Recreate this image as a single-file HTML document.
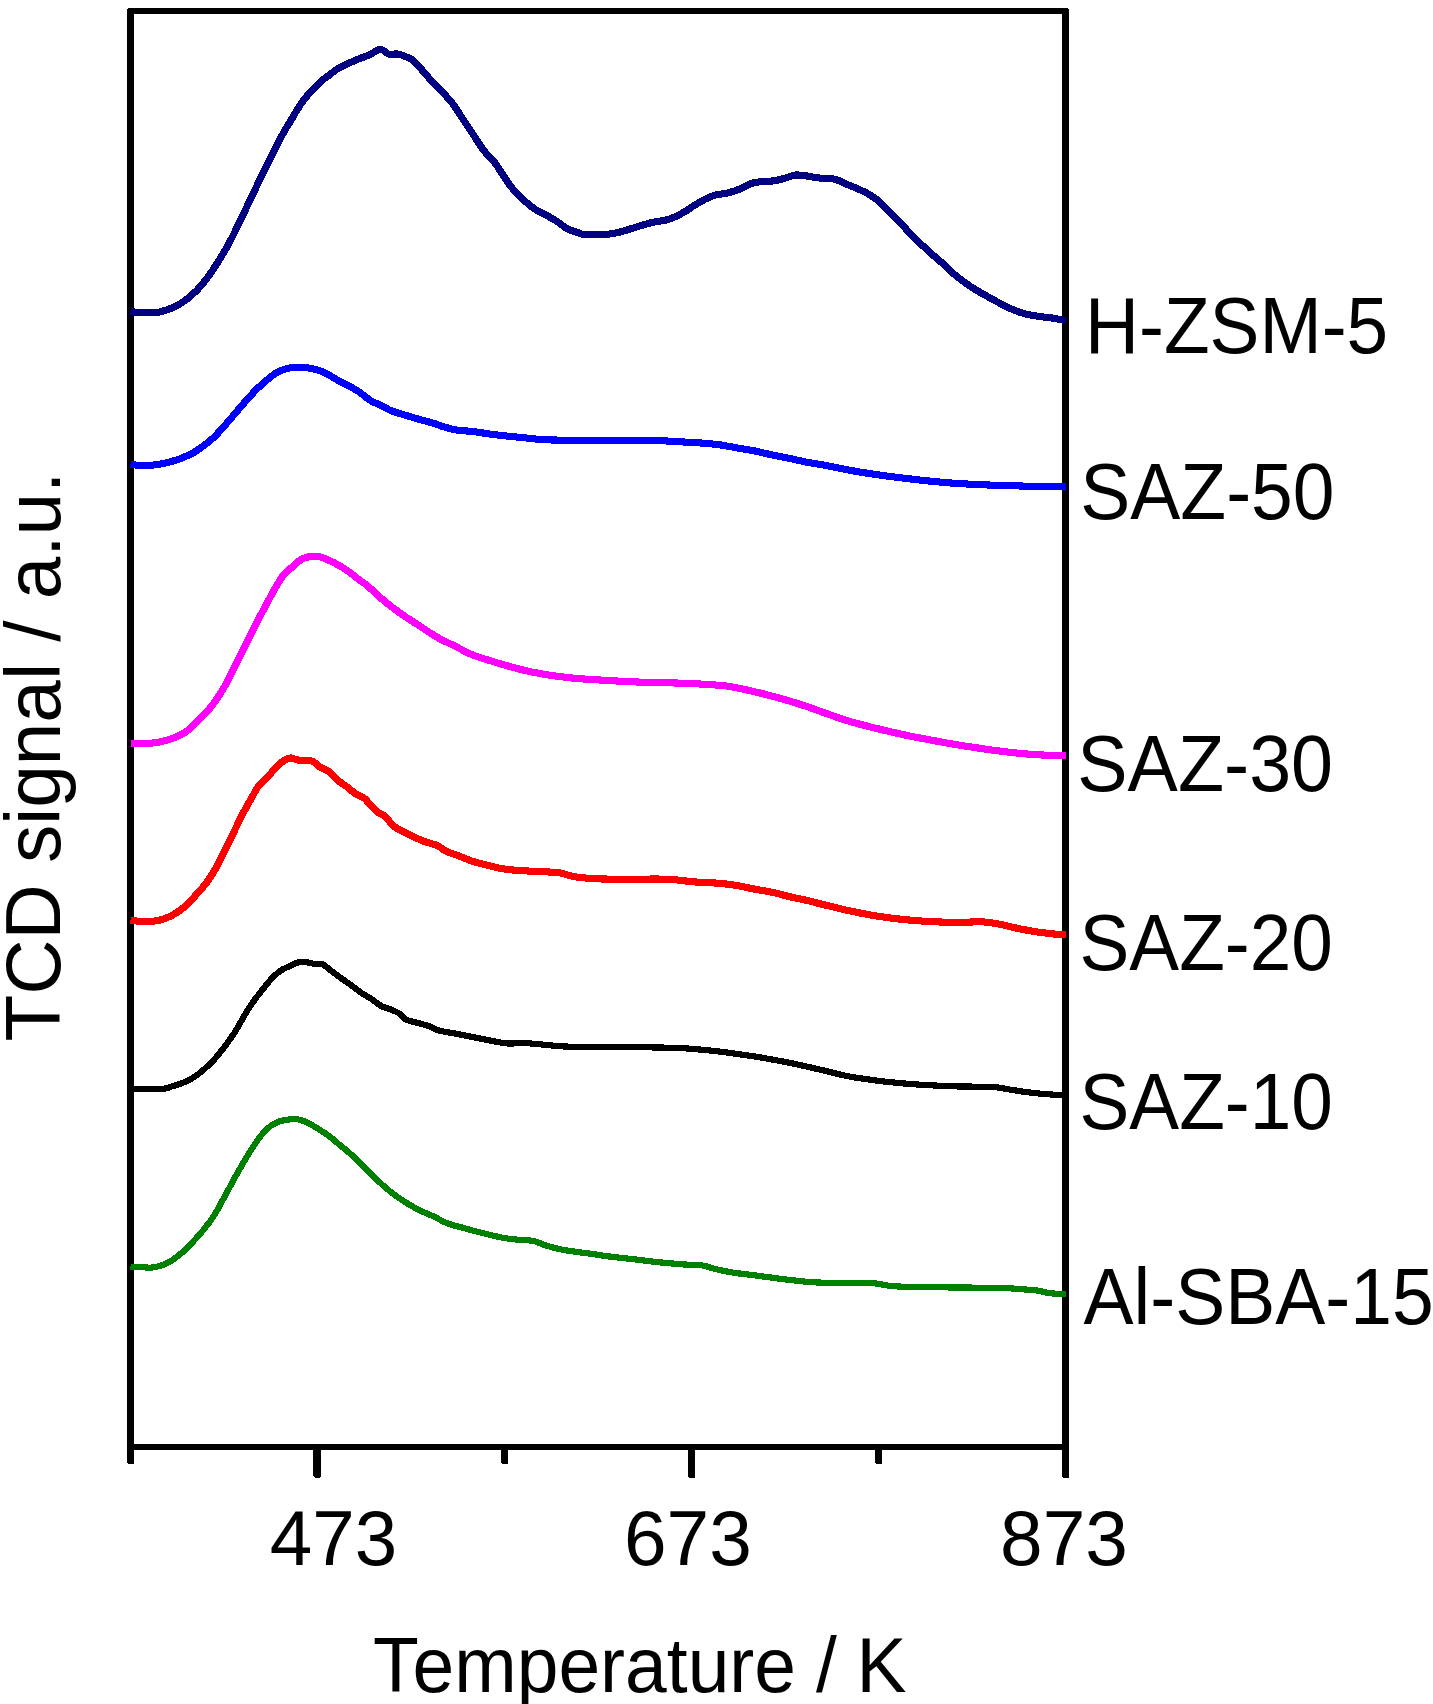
<!DOCTYPE html>
<html lang="en"><head><meta charset="utf-8"><title>NH3-TPD profiles</title>
<style>
html,body{margin:0;padding:0;background:#fff;}
body{width:1433px;height:1704px;overflow:hidden;}
svg{display:block;}
text{font-family:"Liberation Sans", Arial, sans-serif;fill:#000;}
.c{fill:none;stroke-linejoin:round;stroke-linecap:butt;shape-rendering:crispEdges;}
</style></head><body>
<svg width="1433" height="1704" viewBox="0 0 1433 1704">
<rect x="0" y="0" width="1433" height="1704" fill="#ffffff"/>
<g fill="#000" shape-rendering="crispEdges">
<rect x="127" y="8" width="942" height="6"/>
<rect x="127" y="1444" width="942" height="6"/>
<path d="M127 8H134V1463L133 1464H128L127 1463Z"/>
<path d="M1062 8H1069V1477L1068 1478H1063L1062 1477Z"/>
<path d="M313 1444H321V1476L319 1478H315L313 1476Z"/>
<path d="M501 1444H508V1463L507 1464H502L501 1463Z"/>
<path d="M688 1444H695V1477L694 1478H689L688 1477Z"/>
<path d="M875 1444H882V1463L881 1464H876L875 1463Z"/>
<rect x="127" y="8" width="1" height="1" fill="#fff"/><rect x="1068" y="8" width="1" height="1" fill="#fff"/>
</g>
<path class="c" stroke="#000080" stroke-width="7.1" d="M130.5 311.6C132.2 311.8 136.7 312.4 140.9 312.6C145.1 312.8 151.6 313.0 155.6 312.6C159.6 312.2 161.5 311.6 165.0 310.5C168.5 309.4 172.8 307.8 176.5 305.9C180.2 304.0 183.5 301.7 187.0 299.0C190.5 296.3 194.0 293.3 197.5 289.6C201.0 285.9 204.4 281.7 207.9 277.0C211.4 272.3 214.9 266.9 218.4 261.3C221.9 255.7 225.4 249.9 228.9 243.5C232.4 237.1 235.8 229.8 239.3 222.6C242.8 215.4 246.3 207.9 249.8 200.6C253.3 193.3 256.8 185.8 260.3 178.6C263.8 171.4 267.2 164.7 270.7 157.7C274.2 150.7 277.7 143.2 281.2 136.8C284.7 130.4 288.2 124.8 291.7 119.0C295.2 113.2 298.6 107.1 302.1 102.2C305.6 97.3 309.5 93.2 312.6 89.7C315.8 86.2 318.2 83.8 321.0 81.3C323.8 78.8 326.5 77.1 329.3 75.0C332.1 72.9 334.6 70.6 337.7 68.7C340.8 66.8 344.7 65.1 348.2 63.5C351.7 61.9 355.2 60.3 358.7 58.9C362.2 57.5 366.5 56.2 369.1 55.1C371.7 54.0 372.6 53.0 374.3 52.0C376.1 51.0 378.0 49.5 379.6 49.3C381.2 49.1 382.6 50.1 384.2 50.9C385.8 51.7 386.6 53.6 389.0 54.1C391.4 54.6 395.4 53.6 398.4 54.1C401.4 54.6 404.4 56.2 406.8 57.2C409.2 58.2 410.8 58.5 413.1 60.4C415.5 62.3 417.8 65.3 420.9 68.7C423.9 72.1 427.9 77.0 431.4 80.8C434.9 84.6 438.4 87.9 441.9 91.6C445.4 95.3 448.8 98.6 452.3 103.2C455.8 107.8 459.3 113.8 462.8 119.0C466.3 124.2 469.8 129.5 473.3 134.7C476.8 139.9 480.2 145.9 483.7 150.4C487.2 154.9 490.7 157.4 494.2 161.9C497.7 166.4 501.6 173.1 504.7 177.6C507.8 182.1 509.5 185.1 513.0 189.1C516.5 193.1 521.8 198.2 525.6 201.7C529.5 205.2 532.6 207.7 536.1 210.0C539.6 212.3 543.0 213.4 546.5 215.3C550.0 217.2 553.5 219.2 557.0 221.5C560.5 223.8 564.0 227.1 567.5 228.9C571.0 230.8 575.1 231.7 577.9 232.6C580.7 233.5 579.7 234.2 584.2 234.5C588.7 234.8 599.5 234.8 605.1 234.5C610.7 234.2 613.5 233.5 617.7 232.6C621.9 231.7 626.5 230.1 630.3 228.9C634.1 227.8 636.9 226.8 640.7 225.7C644.5 224.6 649.1 223.1 653.3 222.2C657.5 221.3 662.1 221.1 665.9 220.1C669.7 219.1 672.8 217.9 676.3 216.3C679.8 214.7 684.1 212.0 686.8 210.4C689.5 208.8 689.5 208.4 692.6 206.5C695.7 204.6 701.3 201.1 705.1 199.2C708.9 197.3 711.8 196.1 715.6 195.0C719.4 193.9 723.9 194.0 728.1 192.9C732.3 191.8 736.9 190.3 740.7 188.7C744.6 187.1 747.4 184.7 751.2 183.5C755.0 182.3 759.9 181.8 763.7 181.4C767.5 181.0 770.7 181.3 774.2 180.8C777.7 180.3 781.2 179.2 784.7 178.3C788.2 177.4 791.6 175.5 795.1 175.1C798.6 174.7 801.8 175.3 805.6 175.8C809.5 176.3 813.3 177.3 818.2 177.9C823.1 178.5 830.0 178.2 834.9 179.3C839.8 180.4 843.3 182.8 847.5 184.6C851.7 186.3 856.5 188.2 860.0 189.8C863.5 191.4 865.2 192.1 868.4 194.0C871.5 195.9 875.4 198.3 878.9 201.3C882.4 204.3 885.8 208.3 889.3 211.8C892.8 215.3 896.3 218.5 899.8 222.2C903.3 225.8 906.8 230.1 910.3 233.7C913.8 237.3 917.2 240.5 920.7 243.8C924.2 247.1 927.7 250.5 931.2 253.6C934.7 256.7 938.2 259.5 941.7 262.6C945.2 265.8 948.6 269.4 952.1 272.5C955.6 275.6 959.1 278.3 962.6 280.9C966.1 283.5 969.6 285.9 973.1 288.2C976.6 290.4 979.6 292.1 983.7 294.4C987.8 296.7 993.0 299.7 997.7 302.1C1002.4 304.6 1007.1 307.1 1011.7 309.1C1016.4 311.1 1020.9 312.8 1025.6 314.0C1030.2 315.2 1034.9 315.8 1039.6 316.5C1044.2 317.2 1049.1 317.5 1053.5 318.2C1057.9 318.9 1063.9 320.3 1066.0 320.7"/>
<path class="c" stroke="#0000ff" stroke-width="7.1" d="M130.5 464.5C132.2 464.6 136.8 465.3 140.9 465.4C145.0 465.5 150.2 465.4 154.9 464.9C159.6 464.4 164.4 463.3 168.8 462.2C173.2 461.1 177.0 460.0 181.1 458.4C185.2 456.8 189.5 454.8 193.3 452.7C197.1 450.6 200.2 448.3 203.7 445.7C207.2 443.1 210.7 440.4 214.2 437.0C217.7 433.6 221.2 429.5 224.7 425.6C228.2 421.7 231.6 417.5 235.1 413.4C238.6 409.3 242.1 405.1 245.6 401.2C249.1 397.3 252.6 393.3 256.1 389.8C259.6 386.3 263.0 383.2 266.5 380.3C270.0 377.4 273.8 374.3 277.0 372.4C280.2 370.5 282.8 369.8 285.7 368.9C288.6 368.0 291.3 367.4 294.5 367.2C297.7 367.0 301.4 367.1 304.9 367.5C308.4 367.9 311.9 368.4 315.4 369.4C318.9 370.4 322.4 371.6 325.9 373.3C329.4 375.0 332.8 377.4 336.3 379.4C339.8 381.3 343.3 383.1 346.8 385.0C350.3 386.9 353.3 388.1 357.3 390.7C361.3 393.3 366.9 398.3 370.9 400.8C374.9 403.3 378.2 403.9 381.4 405.5C384.6 407.1 386.6 408.8 390.1 410.3C393.6 411.8 397.4 412.8 402.3 414.3C407.2 415.8 414.6 418.0 419.8 419.5C425.0 421.0 429.6 422.1 433.7 423.3C437.8 424.6 440.1 425.8 444.2 427.0C448.3 428.2 453.5 429.6 458.2 430.3C462.9 431.0 466.9 430.8 472.1 431.4C477.3 432.0 483.8 433.2 489.6 434.0C495.4 434.8 501.2 435.5 507.0 436.1C512.8 436.7 518.7 437.2 524.5 437.8C530.3 438.4 536.1 439.2 541.9 439.6C547.7 440.0 553.5 440.0 559.3 440.1C565.1 440.2 570.0 440.3 576.8 440.4C583.6 440.5 593.6 440.5 600.0 440.5C606.4 440.5 605.7 440.5 614.9 440.5C624.1 440.5 644.5 440.3 655.0 440.5C665.5 440.7 669.9 441.3 677.7 441.7C685.6 442.1 695.1 442.6 702.1 443.1C709.1 443.6 713.8 444.0 719.6 444.8C725.4 445.6 731.2 446.9 737.0 447.9C742.8 448.9 748.7 449.7 754.5 450.9C760.3 452.1 766.1 453.6 771.9 454.9C777.7 456.1 783.5 457.2 789.3 458.4C795.1 459.6 800.8 461.0 806.8 462.2C812.8 463.4 818.3 464.0 825.0 465.3C831.7 466.6 839.0 468.3 847.2 469.8C855.4 471.3 865.3 473.0 874.4 474.3C883.5 475.6 892.5 476.8 901.6 477.9C910.7 479.0 919.8 480.1 928.9 481.0C938.0 481.9 947.0 482.8 956.1 483.4C965.2 484.0 974.2 484.4 983.3 484.8C992.4 485.2 1001.4 485.4 1010.5 485.7C1019.6 486.0 1028.5 486.2 1037.7 486.4C1046.9 486.6 1061.1 486.9 1065.8 487.0"/>
<path class="c" stroke="#ff00ff" stroke-width="7.1" d="M130.5 743.2C132.5 743.2 138.6 743.5 142.7 743.4C146.8 743.3 151.1 743.3 154.9 742.8C158.7 742.3 161.9 741.5 165.4 740.6C168.9 739.7 172.3 738.6 175.8 737.1C179.3 735.6 182.8 734.0 186.3 731.5C189.8 729.0 193.3 725.2 196.8 721.9C200.3 718.5 204.0 715.0 207.2 711.4C210.4 707.8 213.1 704.3 216.0 700.1C218.9 695.9 221.8 691.2 224.7 686.1C227.6 681.0 230.5 675.3 233.4 669.6C236.3 663.9 239.2 657.9 242.1 652.1C245.0 646.3 247.9 640.5 250.8 634.7C253.7 628.9 256.7 622.9 259.6 617.2C262.5 611.5 265.4 606.1 268.3 600.7C271.2 595.3 274.4 589.4 277.0 585.0C279.6 580.6 281.4 577.6 284.0 574.5C286.6 571.4 289.8 569.1 292.7 566.6C295.6 564.1 298.5 561.0 301.4 559.3C304.3 557.6 307.3 557.0 310.2 556.5C313.1 556.0 316.0 556.0 318.9 556.5C321.8 557.0 324.4 558.3 327.6 559.7C330.8 561.1 334.6 562.9 338.1 564.9C341.6 566.9 345.0 569.0 348.5 571.5C352.0 574.0 355.9 577.3 359.0 579.7C362.1 582.1 363.1 582.2 367.4 585.8C371.7 589.4 379.1 596.7 384.9 601.5C390.7 606.3 396.5 610.5 402.3 614.6C408.1 618.7 414.0 622.2 419.8 626.0C425.6 629.8 431.4 634.0 437.2 637.3C443.0 640.6 448.9 643.1 454.7 646.0C460.5 648.9 466.3 652.3 472.1 654.7C477.9 657.1 483.8 658.7 489.6 660.5C495.4 662.3 501.2 664.1 507.0 665.7C512.8 667.4 518.7 669.0 524.5 670.4C530.3 671.8 536.1 672.9 541.9 673.9C547.7 674.9 553.5 675.7 559.3 676.5C565.1 677.3 571.7 678.0 576.8 678.5C581.9 679.0 585.1 679.0 590.0 679.3C594.9 679.6 599.2 680.0 606.2 680.4C613.2 680.8 623.6 681.4 632.3 681.8C641.0 682.2 649.8 682.4 658.5 682.6C667.2 682.9 676.0 682.9 684.7 683.3C693.4 683.6 703.2 684.2 710.8 684.7C718.3 685.2 722.7 685.3 730.0 686.5C737.3 687.7 747.5 690.1 754.5 691.7C761.5 693.3 766.1 694.6 771.9 696.1C777.7 697.6 783.5 699.3 789.3 701.0C795.1 702.7 800.8 704.5 806.8 706.5C812.8 708.5 818.3 710.6 825.0 713.0C831.7 715.4 839.0 718.2 847.2 720.7C855.4 723.2 865.3 725.6 874.4 727.9C883.5 730.2 892.5 732.3 901.6 734.3C910.7 736.3 919.8 738.0 928.9 739.7C938.0 741.4 947.0 743.1 956.1 744.6C965.2 746.1 974.2 747.5 983.3 748.8C992.4 750.1 1001.4 751.4 1010.5 752.4C1019.6 753.4 1028.5 754.2 1037.7 754.8C1046.9 755.3 1061.1 755.6 1065.8 755.7"/>
<path class="c" stroke="#ff0000" stroke-width="7.1" d="M130.5 920.2C132.5 920.4 138.6 921.5 142.7 921.6C146.8 921.7 151.1 921.5 154.9 921.0C158.7 920.5 161.9 919.7 165.4 918.4C168.9 917.1 172.3 915.4 175.8 913.2C179.3 911.0 182.8 908.5 186.3 905.3C189.8 902.1 193.3 897.9 196.8 894.0C200.3 890.1 204.0 886.2 207.2 881.8C210.4 877.4 213.1 873.0 216.0 867.8C218.9 862.6 221.8 856.2 224.7 850.4C227.6 844.6 230.4 839.0 233.4 832.9C236.4 826.8 239.7 819.7 242.8 813.7C245.9 807.8 249.4 801.9 252.0 797.2C254.6 792.6 256.2 789.0 258.6 785.8C261.0 782.6 263.7 780.9 266.5 778.0C269.3 775.1 272.4 771.3 275.3 768.4C278.2 765.5 281.4 762.2 284.0 760.5C286.6 758.8 288.7 758.0 291.0 757.9C293.3 757.8 294.4 759.5 297.9 760.0C301.4 760.5 308.1 759.9 311.9 761.1C315.7 762.4 317.7 765.7 320.6 767.5C323.5 769.3 326.4 769.7 329.3 771.9C332.2 774.1 335.2 778.1 338.1 780.6C341.0 783.1 343.9 784.5 346.8 786.7C349.7 788.9 352.6 791.7 355.5 793.7C358.4 795.7 361.1 795.6 364.5 798.5C367.9 801.4 372.8 808.1 376.2 811.1C379.6 814.1 382.0 813.9 384.9 816.4C387.8 818.9 390.7 823.5 393.6 826.0C396.5 828.5 399.1 829.5 402.3 831.2C405.5 832.9 409.0 834.6 412.8 836.4C416.6 838.1 420.9 840.2 425.0 841.7C429.1 843.2 433.7 843.9 437.2 845.5C440.7 847.1 442.5 849.5 446.0 851.2C449.5 852.9 453.8 853.9 458.2 855.6C462.6 857.3 467.5 859.7 472.1 861.2C476.8 862.8 481.5 863.7 486.1 864.9C490.8 866.1 495.4 867.4 500.0 868.3C504.6 869.2 508.5 869.6 514.0 870.1C519.5 870.6 525.7 870.9 533.2 871.3C540.8 871.7 553.2 872.0 559.3 872.7C565.4 873.4 566.0 874.9 569.8 875.7C573.6 876.5 576.5 877.2 582.0 877.7C587.5 878.2 594.3 878.8 602.7 879.0C611.1 879.2 621.5 879.2 632.3 879.2C643.0 879.2 657.0 878.8 667.2 879.2C677.4 879.6 684.7 881.1 693.4 881.8C702.1 882.5 712.3 882.7 719.6 883.3C726.9 883.9 731.2 884.6 737.0 885.6C742.8 886.6 748.7 888.0 754.5 889.1C760.3 890.2 766.1 891.0 771.9 892.2C777.7 893.5 783.5 895.2 789.3 896.6C795.1 898.0 800.8 899.0 806.8 900.4C812.8 901.8 818.3 903.4 825.0 905.0C831.7 906.6 839.0 908.5 847.2 910.3C855.4 912.1 865.3 914.2 874.4 915.7C883.5 917.2 892.5 918.3 901.6 919.3C910.7 920.3 919.8 921.0 928.9 921.5C938.0 922.0 947.0 922.3 956.1 922.4C965.2 922.5 975.8 921.5 983.3 921.9C990.8 922.3 995.3 923.5 1001.4 924.6C1007.5 925.8 1013.5 927.6 1019.6 928.8C1025.7 930.0 1031.7 931.1 1037.7 932.0C1043.8 932.9 1051.2 933.8 1055.9 934.2C1060.6 934.6 1064.2 934.5 1065.8 934.6"/>
<path class="c" stroke="#000000" stroke-width="6.2" d="M130.5 1088.9C135.7 1088.9 154.9 1089.3 161.9 1088.9C168.9 1088.5 168.8 1087.3 172.3 1086.3C175.8 1085.3 179.3 1084.2 182.8 1082.8C186.3 1081.3 189.8 1079.8 193.3 1077.6C196.8 1075.4 200.2 1072.7 203.7 1069.7C207.2 1066.7 210.7 1063.5 214.2 1059.6C217.7 1055.7 221.2 1051.2 224.7 1046.5C228.2 1041.8 231.6 1037.2 235.1 1031.7C238.6 1026.2 242.4 1018.6 245.6 1013.4C248.8 1008.2 251.4 1004.4 254.3 1000.3C257.2 996.2 260.2 992.6 263.1 989.0C266.0 985.4 268.9 981.5 271.8 978.5C274.7 975.5 277.6 972.7 280.5 970.7C283.4 968.7 286.3 967.7 289.2 966.3C292.1 964.9 295.0 963.2 297.9 962.5C300.8 961.8 304.1 962.1 306.7 962.3C309.3 962.5 311.1 963.4 313.7 963.7C316.3 964.0 319.5 963.0 322.4 964.2C325.3 965.4 328.2 968.5 331.1 970.7C334.0 972.9 336.6 975.0 339.8 977.3C343.0 979.6 346.8 982.1 350.3 984.6C353.8 987.1 357.4 990.2 360.8 992.5C364.2 994.8 367.5 996.3 370.9 998.6C374.3 1000.9 377.9 1004.2 381.4 1006.1C384.9 1008.0 388.7 1008.5 391.9 1009.9C395.1 1011.3 398.3 1012.7 400.6 1014.3C402.9 1015.9 402.6 1018.0 405.8 1019.5C409.0 1021.0 415.7 1022.3 419.8 1023.5C423.9 1024.7 427.0 1025.3 430.2 1026.5C433.4 1027.7 434.9 1029.3 439.0 1030.5C443.1 1031.7 449.2 1032.4 454.7 1033.5C460.2 1034.6 466.3 1035.8 472.1 1036.9C477.9 1038.1 483.8 1039.3 489.6 1040.4C495.4 1041.5 501.2 1043.0 507.0 1043.4C512.8 1043.9 518.7 1042.9 524.5 1043.1C530.3 1043.3 536.1 1044.0 541.9 1044.5C547.7 1045.0 553.5 1045.8 559.3 1046.2C565.1 1046.6 570.0 1046.7 576.8 1046.9C583.6 1047.1 590.8 1047.2 600.0 1047.3C609.2 1047.4 622.5 1047.4 632.3 1047.4C642.0 1047.4 649.8 1047.3 658.5 1047.5C667.2 1047.7 676.0 1047.8 684.7 1048.3C693.4 1048.8 702.1 1049.7 710.8 1050.6C719.5 1051.5 728.3 1052.7 737.0 1053.9C745.7 1055.1 754.5 1056.4 763.2 1057.9C771.9 1059.4 782.0 1061.3 789.3 1062.8C796.6 1064.2 800.8 1065.3 806.8 1066.6C812.8 1067.9 818.3 1069.2 825.0 1070.8C831.7 1072.4 839.0 1074.5 847.2 1076.1C855.4 1077.7 865.3 1079.1 874.4 1080.3C883.5 1081.5 892.5 1082.5 901.6 1083.3C910.7 1084.1 919.8 1084.7 928.9 1085.2C938.0 1085.7 945.5 1086.1 956.1 1086.4C966.7 1086.7 983.3 1086.5 992.4 1087.0C1001.5 1087.5 1004.5 1088.8 1010.5 1089.7C1016.5 1090.6 1022.7 1091.7 1028.7 1092.4C1034.8 1093.2 1040.6 1093.7 1046.8 1094.2C1053.0 1094.7 1062.6 1095.0 1065.8 1095.2"/>
<path class="c" stroke="#008000" stroke-width="6.2" d="M130.5 1266.6C132.2 1266.7 137.4 1266.9 140.9 1267.1C144.4 1267.3 147.9 1267.9 151.4 1267.6C154.9 1267.3 158.4 1266.5 161.9 1265.3C165.4 1264.0 168.8 1262.3 172.3 1260.1C175.8 1257.9 179.3 1255.0 182.8 1251.9C186.3 1248.8 189.8 1245.1 193.3 1241.4C196.8 1237.7 200.2 1233.9 203.7 1229.6C207.2 1225.2 210.7 1220.8 214.2 1215.3C217.7 1209.8 221.2 1202.8 224.7 1196.4C228.2 1190.1 231.6 1183.5 235.1 1177.2C238.6 1171.0 242.1 1164.7 245.6 1158.9C249.1 1153.1 252.6 1147.2 256.1 1142.3C259.6 1137.4 263.0 1132.6 266.5 1129.3C270.0 1126.0 273.5 1123.9 277.0 1122.3C280.5 1120.7 284.0 1120.2 287.5 1119.7C291.0 1119.2 294.4 1118.7 297.9 1119.3C301.4 1119.9 304.9 1121.4 308.4 1123.1C311.9 1124.8 315.4 1127.1 318.9 1129.3C322.4 1131.5 325.8 1133.6 329.3 1136.2C332.8 1138.8 336.3 1142.1 339.8 1145.0C343.3 1147.9 346.3 1150.1 350.3 1153.7C354.3 1157.3 359.4 1162.3 364.0 1166.8C368.6 1171.3 373.2 1176.3 377.9 1180.7C382.5 1185.1 387.2 1189.3 391.9 1192.9C396.5 1196.5 401.1 1199.6 405.8 1202.5C410.5 1205.4 415.2 1208.1 419.8 1210.4C424.4 1212.7 429.1 1214.3 433.7 1216.5C438.3 1218.7 443.0 1221.7 447.7 1223.5C452.4 1225.3 457.0 1226.2 461.7 1227.5C466.4 1228.8 471.0 1230.1 475.6 1231.3C480.2 1232.5 485.0 1233.7 489.6 1234.8C494.2 1235.9 498.9 1237.1 503.5 1237.9C508.1 1238.7 512.5 1239.2 517.5 1239.7C522.5 1240.2 528.6 1240.0 533.2 1240.9C537.9 1241.8 541.0 1243.9 545.4 1245.3C549.8 1246.7 554.1 1248.0 559.3 1249.1C564.5 1250.2 571.7 1251.2 576.8 1251.9C581.9 1252.7 585.1 1252.9 590.0 1253.6C594.9 1254.3 599.2 1255.2 606.2 1256.1C613.2 1257.0 623.6 1258.1 632.3 1259.1C641.0 1260.1 649.8 1261.3 658.5 1262.2C667.2 1263.1 677.4 1264.0 684.7 1264.5C692.0 1265.0 696.9 1264.6 702.1 1265.4C707.3 1266.2 710.9 1268.0 716.1 1269.2C721.3 1270.4 727.1 1271.7 733.5 1272.7C739.9 1273.7 746.6 1274.3 754.5 1275.3C762.4 1276.3 771.9 1277.7 780.6 1278.8C789.3 1279.9 798.6 1281.1 806.8 1281.8C815.0 1282.5 819.3 1282.7 830.0 1282.9C840.7 1283.1 861.0 1282.5 870.8 1283.0C880.6 1283.5 882.2 1285.0 888.9 1285.7C895.5 1286.4 899.5 1286.7 910.7 1287.0C921.9 1287.3 941.0 1287.3 956.1 1287.5C971.2 1287.7 990.8 1287.6 1001.4 1287.9C1012.0 1288.2 1013.5 1288.6 1019.6 1289.1C1025.7 1289.5 1032.6 1289.9 1037.7 1290.6C1042.8 1291.3 1045.7 1292.8 1050.4 1293.3C1055.1 1293.8 1063.2 1293.8 1065.8 1293.9"/>
<text transform="translate(269.80 1564.70) scale(1.0175 1.0400)" font-size="75.00" >473</text>
<text transform="translate(624.00 1564.70) scale(1.0220 1.0400)" font-size="75.00" >673</text>
<text transform="translate(1000.10 1564.70) scale(1.0220 1.0400)" font-size="75.00" >873</text>
<text transform="translate(373.00 1691.90) scale(1.0000 1.0350)" font-size="75.00" dx="0 2 0 0 0 0 0 0 0 0 0 -1 0 -1 0">Temperature / K</text>
<text transform="translate(60 1041.5) rotate(-90) scale(1.0204 1.035)" font-size="75">TCD signal / a.u.</text>
<text transform="translate(1085.00 352.90) scale(0.9970 1.0660)" font-size="75.00" >H-ZSM-5</text>
<text transform="translate(1080.30 518.70) scale(1.0000 1.0660)" font-size="75.00" >SAZ-50</text>
<text transform="translate(1077.30 790.70) scale(1.0060 1.0660)" font-size="75.00" >SAZ-30</text>
<text transform="translate(1079.50 969.70) scale(0.9960 1.0660)" font-size="75.00" >SAZ-20</text>
<text transform="translate(1079.50 1128.70) scale(0.9960 1.0660)" font-size="75.00" >SAZ-10</text>
<text transform="translate(1083.60 1323.70) scale(1.0000 1.0660)" font-size="75.00" >Al-SBA-15</text>
</svg>
</body></html>
